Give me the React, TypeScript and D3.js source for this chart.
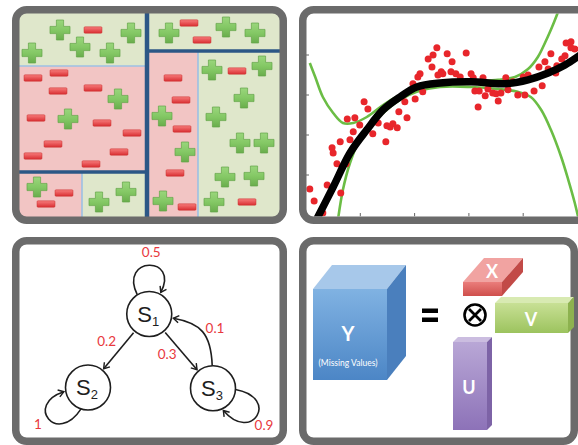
import React from 'react';
import * as d3 from 'd3';

const W = 578, H = 445;
const FRAME = '#6b6b6b';

// ---------- Panel 1: decision-tree partition ----------
// regions [x0, y0, x1, y1, class] in grid units
const p1Regions: [number, number, number, number, string][] = [
  [-10, -10, 127, 51, 'plus'],
  [-10, 51, 127, 157, 'minus'],
  [-10, 157, 62, 215, 'minus'],
  [62, 157, 127, 215, 'plus'],
  [127, -10, 270, 36, 'plus'],
  [127, 36, 178, 215, 'minus'],
  [178, 36, 270, 215, 'plus'],
];
const p1DarkSplits: [number, number, number, number][] = [
  [127, -10, 127, 215],
  [-10, 157, 127, 157],
  [127, 36, 270, 36],
];
const p1LightSplits: [number, number, number, number][] = [
  [-10, 51, 127, 51],
  [62, 157, 62, 215],
  [178, 36, 178, 215],
];
const p1Plus: [number, number][] = [
  [40, 15], [60, 32], [12, 38], [90, 38], [111, 18], [149, 18], [206, 12], [235, 18],
  [98, 84], [48, 104], [17, 172], [79, 187], [106, 177], [142, 101], [165, 137],
  [143, 186], [192, 55], [242, 51], [224, 83], [196, 102], [220, 128], [244, 128],
  [205, 162], [234, 161], [194, 187],
];
const p1Minus: [number, number][] = [
  [73, 15], [169, 8], [182, 25], [13, 63], [39, 58], [38, 76], [73, 73], [16, 103],
  [82, 108], [112, 118], [33, 129], [13, 141], [99, 137], [71, 149], [44, 178],
  [26, 189], [153, 63], [161, 85], [162, 114], [155, 158], [167, 192], [217, 56], [227, 187],
];

// ---------- Panel 2: polynomial fit ----------
const scatterX = [0.07, 0.15, 0.31, 0.39, 0.64, 0.48, 0.5, 0.63, 0.57, 0.74, 0.81, 0.87, 0.76, 0.9, 0.99, 1.07, 1.14, 1.23, 1.33, 1.47, 1.49, 1.55, 1.6, 1.68, 1.71, 1.86, 1.82, 2.01, 1.97, 2.06, 2.1, 2.15, 2.25, 2.32, 2.34, 2.41, 2.43, 2.6, 2.69, 2.95, 2.49, 2.52, 2.67, 2.76, 2.84, 3.04, 3.08, 3.26, 3.11, 3.19, 3.3, 3.35, 3.44, 3.5, 3.54, 3.59, 3.68, 3.72, 3.81, 3.9, 4.0, 4.09, 4.03, 4.2, 4.35, 4.29, 4.4, 4.46, 4.51, 4.6, 4.62, 4.71, 4.77, 4.79, 4.88, 4.88, 4.95, 3.17];
const scatterY = [0.65, 0.35, 0.05, 0.75, 0.55, 1.68, 1.55, 1.83, 1.28, 1.28, 1.88, 2.08, 2.4, 2.43, 2.25, 2.83, 2.65, 2.03, 2.3, 1.83, 2.23, 2.2, 2.28, 2.18, 2.58, 2.43, 2.83, 2.9, 3.28, 3.45, 3.53, 3.08, 3.9, 3.7, 4.0, 4.18, 3.5, 4.03, 3.83, 4.05, 3.58, 3.53, 3.58, 3.53, 3.45, 3.53, 3.43, 3.43, 3.1, 3.1, 2.98, 3.15, 3.05, 3.03, 2.85, 3.05, 3.43, 3.13, 3.33, 3.0, 3.45, 3.5, 3.0, 3.1, 3.23, 3.7, 3.83, 3.65, 4.03, 3.55, 3.73, 3.9, 3.98, 4.3, 4.33, 4.18, 4.15, 2.7];
const fitX = [0.18, 0.5, 0.81, 1.12, 1.42, 1.73, 2.04, 2.47, 3.04, 3.66, 4.09, 4.46, 4.77, 5.05];
const fitY = [-0.15, 0.7, 1.55, 2.13, 2.63, 2.95, 3.2, 3.3, 3.33, 3.28, 3.38, 3.55, 3.75, 4.0];
const upperX = [0.07, 0.17, 0.31, 0.5, 0.68, 0.87, 1.12, 1.42, 1.73, 2.04, 2.47, 3.04, 3.54, 3.85, 4.09, 4.27, 4.4, 4.51, 4.62, 4.7];
const upperY = [3.8, 3.45, 2.95, 2.55, 2.3, 2.3, 2.45, 2.75, 3.0, 3.2, 3.3, 3.35, 3.38, 3.45, 3.65, 3.95, 4.3, 4.63, 5.0, 5.3];
const lowerX = [0.58, 0.68, 0.81, 0.96, 1.18, 1.42, 1.73, 2.04, 2.47, 3.04, 3.54, 3.9, 4.14, 4.33, 4.51, 4.7, 4.83, 4.95, 5.02];
const lowerY = [-0.2, 0.63, 1.3, 1.8, 2.2, 2.55, 2.88, 3.08, 3.2, 3.2, 3.15, 3.08, 2.95, 2.63, 2.13, 1.45, 0.88, 0.3, -0.1];
const xTicks = [1, 2, 3, 4];
const yTicks = [1, 2, 3, 4];

// ---------- Panel 3: Markov chain ----------
const stateNames = ['S', 'S', 'S'];
const stateSubs = ['1', '2', '3'];
const stateU = [0.49, 0, 1];
const stateV = [0, 1, 1.01];
// straight edges: [from, to, label, labelDx, labelDy]
const straightEdges: [number, number, string, number, number][] = [
  [0, 1, '0.2', -12, -8],
  [0, 2, '0.3', -14, 4],
];
// self loops: [state, startAngle, endAngle, ctrlAngle1, ctrlAngle2, reach, label, labelDx, labelDy]
const selfLoops: [number, number, number, number, number, number, string, number, number][] = [
  [0, -122, -62, -118, -62, 66, '0.5', 2, -60],
  [1, 108, 170, 118, 165, 66, '1', -50, 38],
  [2, 3, 65, 8, 55, 68, '0.9', 51, 38],
];
// curved back edge S3 -> S1
const backEdge = { from: 2, to: 0, a1: -92, a2: 10, r1: 55, r2: 52, label: '0.1', lx: 215, ly: 330 };

// ---------- Panel 4: tensor factorization ----------
const boxNames = ['Y', 'X', 'V', 'U'];
const boxX = [313, 463, 495, 453];
const boxY = [289, 282, 303, 342];
const boxW = [74, 39, 73, 34];
const boxH = [91, 14, 30, 88];
const boxDx = [19, 21, 6, 5];
const boxDy = [-24, -24, -6, -5];
const boxLabelX = [348, 492, 531, 469];
const boxLabelY = [336, 273, 321, 389];
const boxTop = ['#a7c8ea', '#f1a3a1', '#d8eab2', '#cbbde0'];
const boxFrontA = ['#80b2e2', '#ea7d7b', '#c8e095', '#b9a7d6'];
const boxFrontB = ['#4c86c6', '#cf4f4c', '#9cc35e', '#8d72b8'];
const boxSide = ['#4a7fbd', '#c24a47', '#8db24f', '#7d63a6'];

function frameRect(x: number, y: number, w: number, h: number, key: string) {
  return <rect key={key} x={x} y={y} width={w} height={h} rx={11} ry={11} fill="none" stroke={FRAME} strokeWidth={7.5} />;
}

const plusPath = (() => {
  const a = 10, t = 3.6;
  return `M${-t},${-a}H${t}V${-t}H${a}V${t}H${t}V${a}H${-t}V${t}H${-a}V${-t}H${-t}Z`;
})();

export default function App() {
  // Panel 1 scales
  const gx = d3.scaleLinear().domain([0, 259]).range([20, 279]);
  const gy = d3.scaleLinear().domain([0, 202]).range([15, 217]);

  // Panel 2 scales
  const sx = d3.scaleLinear().domain([0, 5]).range([306, 577.5]);
  const sy = d3.scaleLinear().domain([0, 5]).range([215, 15]);
  const line = d3.line<[number, number]>().x(d => sx(d[0])).y(d => sy(d[1])).curve(d3.curveCatmullRom.alpha(0.5));
  const zip = (a: number[], b: number[]) => a.map((v, i) => [v, b[i]] as [number, number]);

  // Panel 3 scales
  const mx = d3.scaleLinear().domain([0, 1]).range([88, 213]);
  const my = d3.scaleLinear().domain([0, 1]).range([314, 387.5]);
  const R = 22.5;
  const cx = (i: number) => mx(stateU[i]);
  const cy = (i: number) => my(stateV[i]);
  const rad = (deg: number) => (deg * Math.PI) / 180;
  const pt = (i: number, deg: number, r: number): [number, number] => [cx(i) + r * Math.cos(rad(deg)), cy(i) + r * Math.sin(rad(deg))];

  const red = '#e8383d';
  const ink = '#1e1e1e';
  const labelSize = 13.5;

  return (
    <svg width={W} height={H} style={{ position: 'absolute', left: 0, top: 0, background: '#fff' }}>
      <defs>
        <clipPath id="p1clip">
          <rect x={19} y={13} width={261} height={204} rx={7} />
        </clipPath>
        <clipPath id="p2clip">
          <rect x={306} y={13.5} width={280} height={203} />
        </clipPath>
        <linearGradient id="plusG" x1="0" y1="0" x2="0" y2="1">
          <stop offset="0" stopColor="#9ad67c" />
          <stop offset="0.5" stopColor="#84c865" />
          <stop offset="1" stopColor="#69ad4c" />
        </linearGradient>
        <linearGradient id="minusG" x1="0" y1="0" x2="0" y2="1">
          <stop offset="0" stopColor="#f77c7c" />
          <stop offset="1" stopColor="#d92f32" />
        </linearGradient>
        {boxNames.map((n, i) => (
          <linearGradient key={n} id={`front${i}`} x1="0" y1="0" x2="0" y2="1">
            <stop offset="0" stopColor={boxFrontA[i]} />
            <stop offset="1" stopColor={boxFrontB[i]} />
          </linearGradient>
        ))}
        <marker id="arr" viewBox="-8 -5 10 10" refX={0} refY={0} markerWidth={9} markerHeight={9} markerUnits="userSpaceOnUse" orient="auto">
          <path d="M-6,-4 L0,0 L-6,4" fill="none" stroke={ink} strokeWidth={1.6} strokeLinejoin="miter" />
        </marker>
      </defs>

      {/* Panel 1 */}
      <g clipPath="url(#p1clip)">
        {p1Regions.map((r, i) => (
          <rect key={i} x={gx(r[0])} y={gy(r[1])} width={gx(r[2]) - gx(r[0])} height={gy(r[3]) - gy(r[1])}
            fill={r[4] === 'plus' ? '#dfe7cb' : '#f2c5c4'} />
        ))}
        {p1LightSplits.map((l, i) => (
          <line key={i} x1={gx(l[0])} y1={gy(l[1])} x2={gx(l[2])} y2={gy(l[3])} stroke="#9cc0e4" strokeWidth={1.6} />
        ))}
        {p1DarkSplits.map((l, i) => (
          <line key={i} x1={gx(l[0])} y1={gy(l[1])} x2={gx(l[2])} y2={gy(l[3])} stroke="#2c5786" strokeWidth={l[0] === l[2] ? 4.5 : 3.5} />
        ))}
        {p1Minus.map((p, i) => (
          <rect key={i} x={gx(p[0]) - 9} y={gy(p[1]) - 3.2} width={18} height={6.4} rx={1} fill="url(#minusG)" stroke="#c9302f" strokeWidth={0.5} />
        ))}
        {p1Plus.map((p, i) => (
          <path key={i} d={plusPath} transform={`translate(${gx(p[0])},${gy(p[1])})`} fill="url(#plusG)" stroke="#63a548" strokeWidth={0.7} strokeLinejoin="round" />
        ))}
      </g>
      {frameRect(15.75, 9.75, 267.5, 210.5, 'f1')}

      {/* Panel 2 */}
      <g clipPath="url(#p2clip)">
        <path d={line(zip(upperX, upperY)) || ''} fill="none" stroke="#6bbd45" strokeWidth={2.6} />
        <path d={line(zip(lowerX, lowerY)) || ''} fill="none" stroke="#6bbd45" strokeWidth={2.6} />
        {scatterX.map((x, i) => (
          <circle key={i} cx={sx(x)} cy={sy(scatterY[i])} r={3.5} fill="#e8262b" />
        ))}
        <path d={line(zip(fitX, fitY)) || ''} fill="none" stroke="#000" strokeWidth={7.5} strokeLinecap="round" />
        {yTicks.map(t => (
          <line key={'y' + t} x1={sx(0)} x2={sx(0) + 3} y1={sy(t)} y2={sy(t)} stroke="#666" strokeWidth={1} />
        ))}
        {xTicks.map(t => (
          <line key={'x' + t} x1={sx(t)} x2={sx(t)} y1={216.5} y2={213} stroke="#666" strokeWidth={1} />
        ))}
      </g>
      {frameRect(302.75, 9.75, 290, 210.5, 'f2')}

      {/* Panel 3 */}
      {frameRect(15.75, 240.75, 267.5, 200.5, 'f3')}
      <g fontFamily="Lato, 'Open Sans', sans-serif">
        {straightEdges.map(([a, b, lab, dx, dy], i) => {
          const ang = Math.atan2(cy(b) - cy(a), cx(b) - cx(a));
          const deg = (ang * 180) / Math.PI;
          const [x1, y1] = pt(a, deg, R + 2);
          const [x2, y2] = pt(b, deg + 180, R + 2);
          return (
            <g key={i}>
              <line x1={x1} y1={y1} x2={x2} y2={y2} stroke={ink} strokeWidth={1.6} markerEnd="url(#arr)" />
              <text x={(x1 + x2) / 2 + dx} y={(y1 + y2) / 2 + dy} textAnchor="middle" dominantBaseline="middle" fontSize={labelSize} fill={red}>{lab}</text>
            </g>
          );
        })}
        {selfLoops.map(([s, a0, a1, c0, c1, reach, lab, dx, dy], i) => {
          const p0 = pt(s, a0, R);
          const p1 = pt(s, a1, R + 2);
          const q0 = pt(s, c0, reach);
          const q1 = pt(s, c1, reach);
          const d = `M${p0[0]},${p0[1]} C${q0[0]},${q0[1]} ${q1[0]},${q1[1]} ${p1[0]},${p1[1]}`;
          return (
            <g key={i}>
              <path d={d} fill="none" stroke={ink} strokeWidth={1.6} markerEnd="url(#arr)" />
              <text x={cx(s) + dx} y={cy(s) + dy} textAnchor="middle" dominantBaseline="middle" fontSize={labelSize} fill={red}>{lab}</text>
            </g>
          );
        })}
        {(() => {
          const b = backEdge;
          const p0 = pt(b.from, b.a1, R);
          const p1 = pt(b.to, b.a2, R + 2);
          const q0 = pt(b.from, b.a1, b.r1);
          const q1 = pt(b.to, b.a2, b.r2);
          const d = `M${p0[0]},${p0[1]} C${q0[0]},${q0[1]} ${q1[0]},${q1[1]} ${p1[0]},${p1[1]}`;
          return (
            <g>
              <path d={d} fill="none" stroke={ink} strokeWidth={1.6} markerEnd="url(#arr)" />
              <text x={b.lx} y={b.ly} textAnchor="middle" dominantBaseline="middle" fontSize={labelSize} fill={red}>{b.label}</text>
            </g>
          );
        })()}
        {stateNames.map((n, i) => (
          <g key={i}>
            <circle cx={cx(i)} cy={cy(i)} r={R} fill="#fff" stroke={ink} strokeWidth={1.6} />
            <text x={cx(i) - 1} y={cy(i) + 7.5} textAnchor="middle" fontSize={22} fill={ink} fontFamily="'Liberation Sans', Arial, sans-serif">
              {n}
              <tspan fontSize={13} dy={4}>{stateSubs[i]}</tspan>
            </text>
          </g>
        ))}
      </g>

      {/* Panel 4 */}
      {frameRect(302.75, 240.75, 271.5, 200.5, 'f4')}
      <g fontFamily="Lato, 'Open Sans', sans-serif">
        {boxNames.map((n, i) => {
          const x = boxX[i], y = boxY[i], w = boxW[i], h = boxH[i], dx = boxDx[i], dy = boxDy[i];
          const top = `M${x},${y} L${x + dx},${y + dy} L${x + w + dx},${y + dy} L${x + w},${y} Z`;
          const side = `M${x + w},${y} L${x + w + dx},${y + dy} L${x + w + dx},${y + h + dy} L${x + w},${y + h} Z`;
          return (
            <g key={n}>
              <path d={top} fill={boxTop[i]} />
              <path d={side} fill={boxSide[i]} />
              <rect x={x} y={y} width={w} height={h} fill={`url(#front${i})`} />
              <text x={boxLabelX[i]} y={boxLabelY[i]} textAnchor="middle" dominantBaseline="middle" fontSize={n === 'Y' ? 20 : 18} fontWeight={700} fill="#fff">{n}</text>
            </g>
          );
        })}
        <text x={348} y={364} textAnchor="middle" dominantBaseline="middle" fontSize={8.5} fill="#fff">(Missing Values)</text>
        <rect x={422} y={308.5} width={16} height={4.5} fill="#000" />
        <rect x={422} y={317.5} width={16} height={4.5} fill="#000" />
        <circle cx={475} cy={315} r={10.5} fill="#fff" stroke="#000" strokeWidth={2.6} />
        <path d="M469,309 L481,321 M481,309 L469,321" stroke="#000" strokeWidth={2.8} />
      </g>
    </svg>
  );
}
